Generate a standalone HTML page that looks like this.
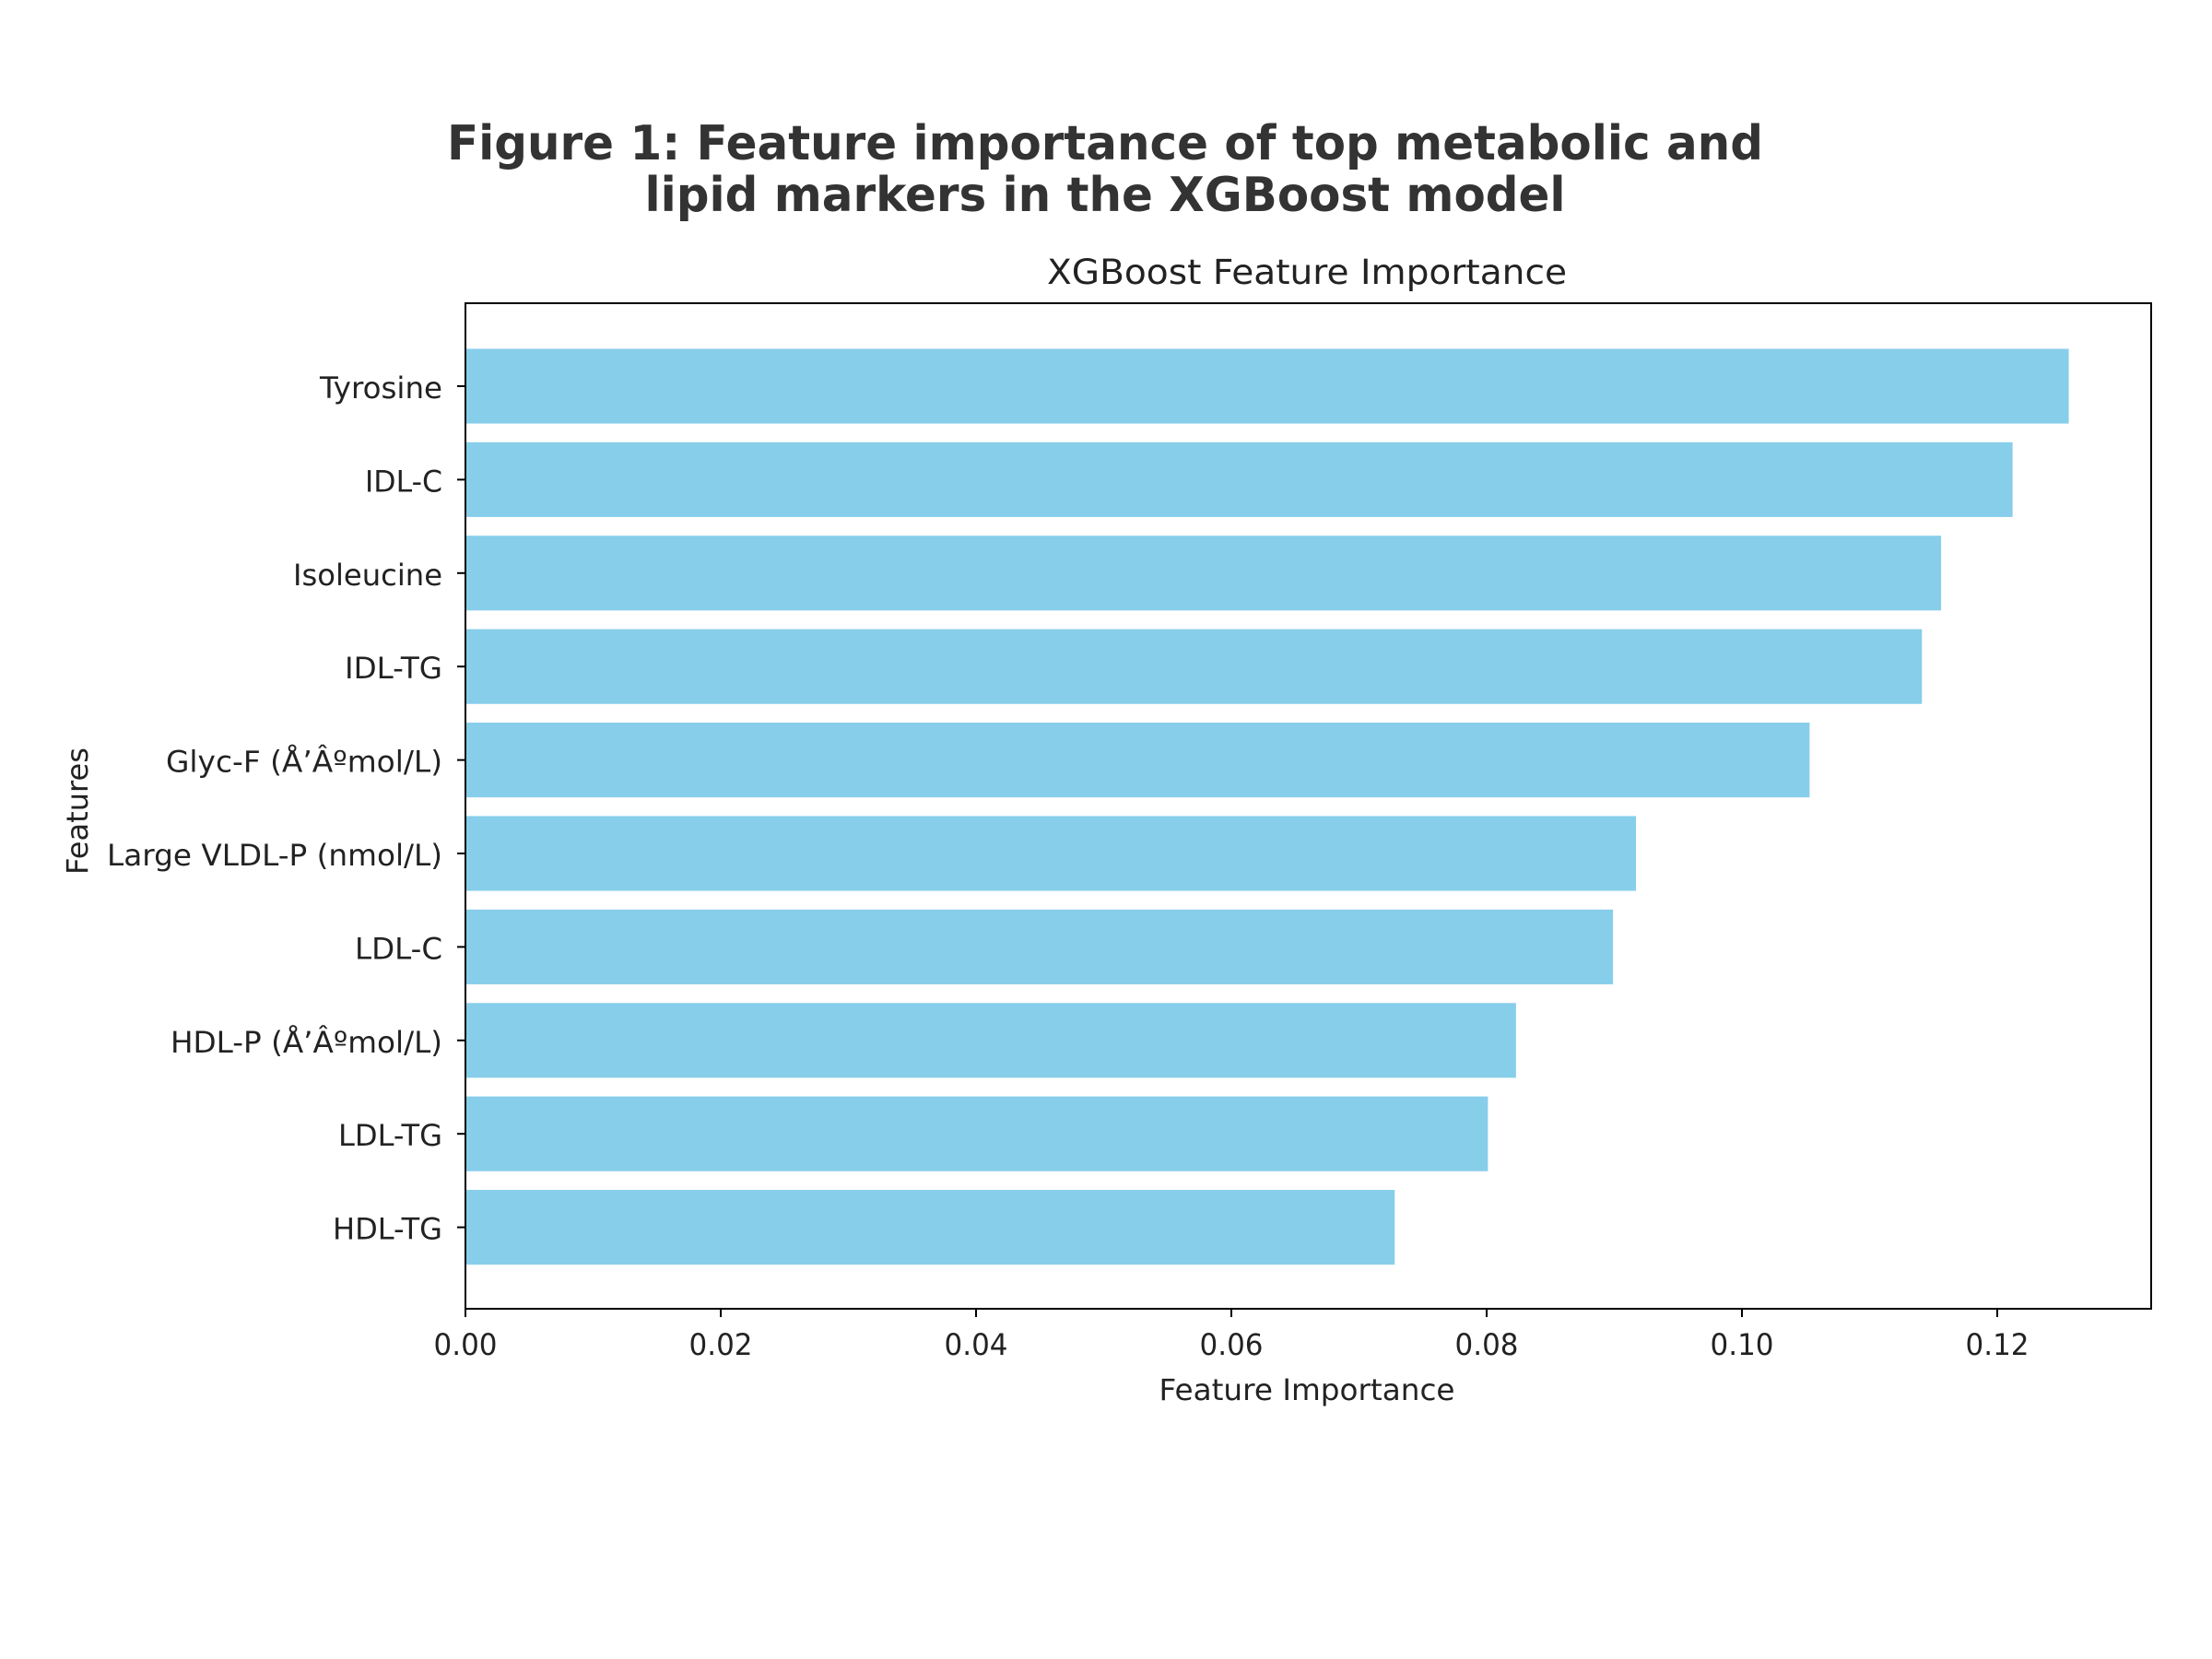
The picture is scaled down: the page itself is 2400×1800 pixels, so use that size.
<!DOCTYPE html>
<html><head><meta charset="utf-8"><style>
html,body{margin:0;padding:0;background:#fff;}
svg{display:block;}
text{font-family:"DejaVu Sans","Liberation Sans",sans-serif;}
</style></head><body>
<svg id="chart" width="2400" height="1800" viewBox="0 0 2400 1800" xmlns="http://www.w3.org/2000/svg">
<rect width="2400" height="1800" fill="#fff"/>
<text x="1199" y="173" text-anchor="middle" font-size="52" font-weight="bold" fill="#333" textLength="1428" lengthAdjust="spacingAndGlyphs">Figure 1: Feature importance of top metabolic and</text>
<text x="1199" y="229" text-anchor="middle" font-size="52" font-weight="bold" fill="#333" textLength="999" lengthAdjust="spacingAndGlyphs">lipid markers in the XGBoost model</text>
<text x="1418" y="308" text-anchor="middle" font-size="37" fill="#222" textLength="564" lengthAdjust="spacingAndGlyphs">XGBoost Feature Importance</text>
<text x="1418" y="1519" text-anchor="middle" font-size="32" fill="#222" textLength="321" lengthAdjust="spacingAndGlyphs">Feature Importance</text>
<text x="0" y="0" transform="translate(95,880) rotate(-90)" text-anchor="middle" font-size="32" fill="#222" textLength="138" lengthAdjust="spacingAndGlyphs">Features</text>
<g id="bars"></g>
<g id="axes"></g>
</svg>
<script>
const categories = ["Tyrosine","IDL-C","Isoleucine","IDL-TG","Glyc-F (Å’Âºmol/L)","Large VLDL-P (nmol/L)","LDL-C","HDL-P (Å’Âºmol/L)","LDL-TG","HDL-TG"];
const importanceValues = [0.1256,0.1212,0.1156,0.1141,0.1053,0.0917,0.0899,0.0823,0.0801,0.0728];
const xTickValues = [0,0.02,0.04,0.06,0.08,0.10,0.12];
const xTickLabels = ["0.00","0.02","0.04","0.06","0.08","0.10","0.12"];
const labelWidths = [133,84,162,106,300,364,95,295,113,119];

const NS="http://www.w3.org/2000/svg";
const L=505,R=2334,T=329,B=1420;
const xMax=0.12*(R-L)/(2167-L);
function xs(v){return L+(v/xMax)*(R-L);}
const step=101.4, firstC=419;
function ys(i){return firstC+i*step;}
const bh=step*0.8;
function mk(tag,attrs,parent){const e=document.createElementNS(NS,tag);for(const k in attrs)e.setAttribute(k,attrs[k]);parent.appendChild(e);return e;}
const bars=document.getElementById('bars'), axes=document.getElementById('axes');
categories.forEach((c,i)=>{
  const r=mk('rect',{x:L,y:ys(i)-bh/2,width:xs(importanceValues[i])-L,height:bh,fill:'#87CEEB'},bars);
  
  
  const t=mk('line',{x1:L-9,x2:L,y1:ys(i),y2:ys(i),stroke:'#000','stroke-width':2},axes);
  
  
  const lb=mk('text',{x:L-25,y:ys(i)+13,'text-anchor':'end','font-size':32,fill:'#222',textLength:labelWidths[i],lengthAdjust:'spacingAndGlyphs'},axes);
  lb.textContent=c;
  
  
});
const frame=mk('rect',{x:L,y:T,width:R-L,height:B-T,fill:'none',stroke:'#000','stroke-width':2},axes);


xTickValues.forEach((v,i)=>{
  const t=mk('line',{x1:xs(v),x2:xs(v),y1:B,y2:B+9,stroke:'#000','stroke-width':2},axes);
  
  
  const lb=mk('text',{x:xs(v),y:B+50,'text-anchor':'middle','font-size':32,fill:'#222',textLength:69,lengthAdjust:'spacingAndGlyphs'},axes);
  lb.textContent=xTickLabels[i];
  
  
});
</script>
</body></html>
